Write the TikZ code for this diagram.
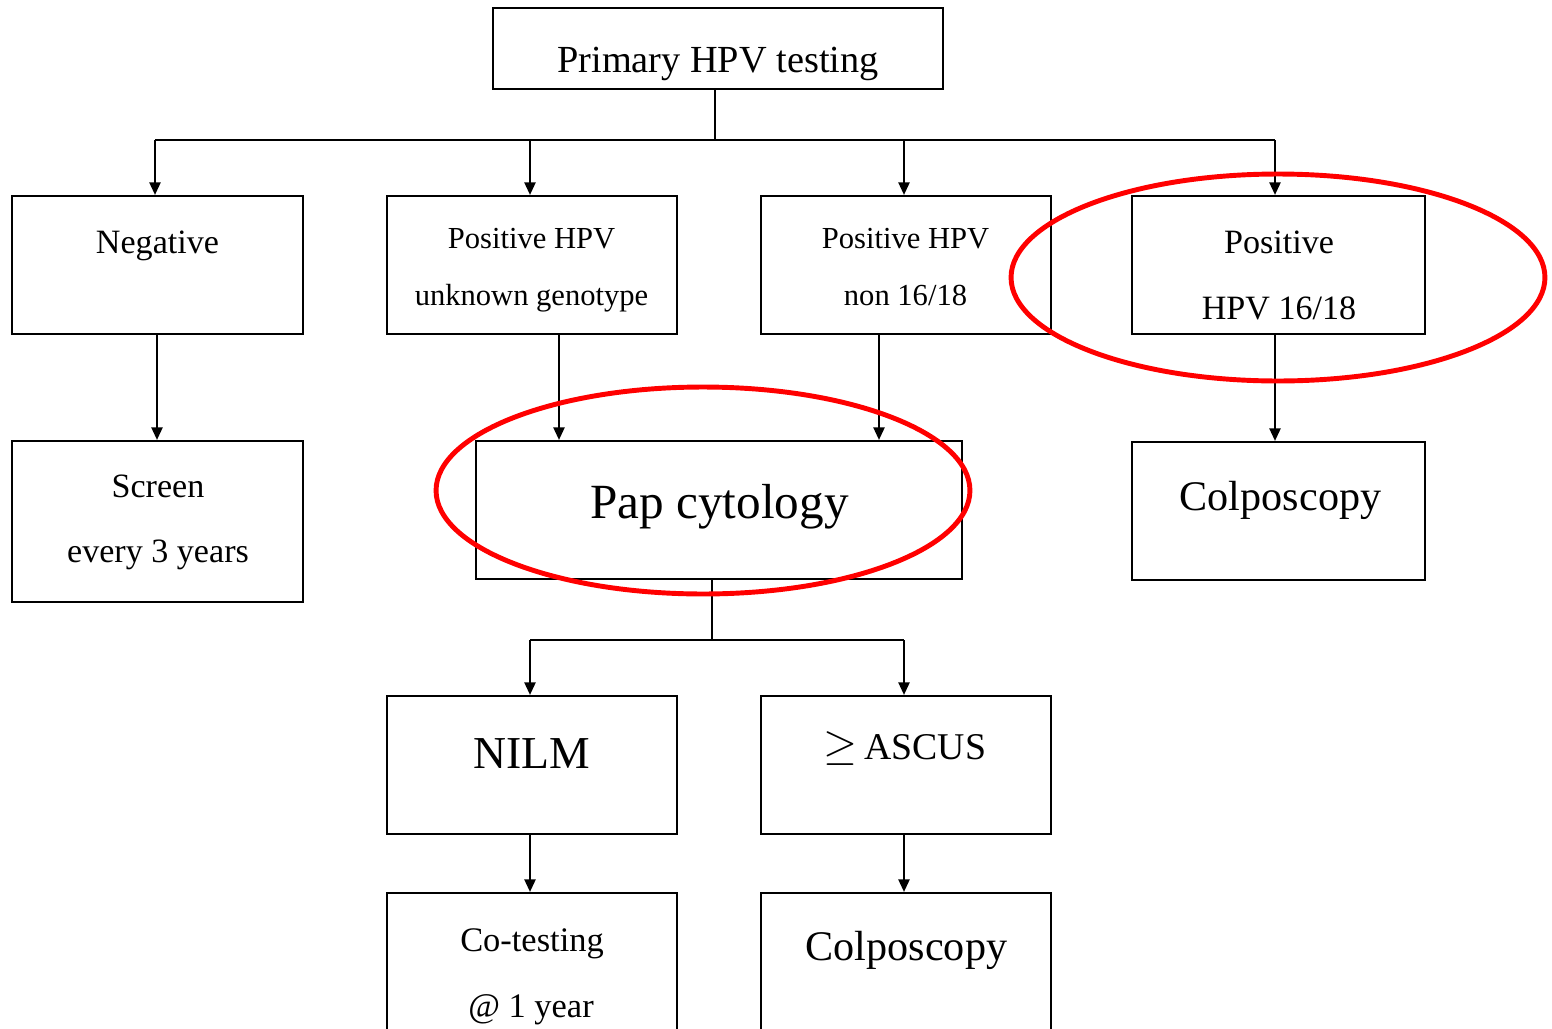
\documentclass[tikz,border=0pt]{standalone}
\usepackage{fontspec}
\setmainfont{Liberation Serif}
\usetikzlibrary{arrows.meta,fit}
\newcommand{\fs}[1]{\fontsize{#1}{#1}\selectfont}
\begin{document}
\begin{tikzpicture}[x=0.02cm,y=-0.02cm,
  box/.style={draw, line width=1.2pt, inner sep=0pt, rectangle},
  lbl/.style={anchor=base, inner sep=0pt},
  conn/.style={line width=1.2pt},
  arr/.style={line width=1.2pt, -{Triangle[length=0.25cm,width=0.22cm]}},
  ring/.style={draw=red, line width=2.8pt}]
\useasboundingbox (0,0) rectangle (1552,1028);
\clip (0,0) rectangle (1552,1028);
\fill[white] (0,0) rectangle (1552,1028);
% boxes
\node[box, fit={(493,8) (943,89)}] (top) {};
\node[box, fit={(12,196) (303,334)}] (neg) {};
\node[box, fit={(387,196) (677,334)}] (unk) {};
\node[box, fit={(761,196) (1051,334)}] (non) {};
\node[box, fit={(1132,196) (1425,334)}] (pos) {};
\node[box, fit={(12,441) (303,602)}] (screen) {};
\node[box, fit={(476,441) (962,579)}] (pap) {};
\node[box, fit={(1132,442) (1425,580)}] (colpoA) {};
\node[box, fit={(387,696) (677,834)}] (nilm) {};
\node[box, fit={(761,696) (1051,834)}] (ascus) {};
\node[box, fit={(387,893) (677,1080)}] (cotest) {};
\node[box, fit={(761,893) (1051,1080)}] (colpoB) {};
% texts
\node[lbl, font=\fs{21.8}] (ttop) at (718,72) {Primary HPV testing};
\node[lbl, font=\fs{19.4}] (tneg) at (157.5,253) {Negative};
\node[lbl, font=\fs{17.4}] (tunk1) at (531.5,248) {Positive HPV};
\node[lbl, font=\fs{17.4}] (tunk2) at (531.5,305) {unknown genotype};
\node[lbl, font=\fs{17.4}] (tnon1) at (905.5,248) {Positive HPV};
\node[lbl, font=\fs{17.4}] (tnon2) at (905.5,305) {non 16/18};
\node[lbl, font=\fs{19.4}] (tpos1) at (1279,253) {Positive};
\node[lbl, font=\fs{19.4}] (tpos2) at (1279,319) {HPV 16/18};
\node[lbl, font=\fs{19.4}] (tscr1) at (158,497) {Screen};
\node[lbl, font=\fs{19.4}] (tscr2) at (158,562) {every 3 years};
\node[lbl, font=\fs{28}] (tpap) at (719.5,518) {Pap cytology};
\node[lbl, font=\fs{24}] (tcolA) at (1280.5,510) {Colposcopy};
\node[lbl, font=\fs{26}] (tnilm) at (531.5,768) {NILM};
\node[lbl, font=\fs{21.5}] (tascus) at (905,759) {{\fs{25}$\geq$}\,ASCUS};
\node[lbl, font=\fs{19.6}] (tco1) at (532,951) {Co-testing};
\node[lbl, font=\fs{19.6}] (tco2) at (531,1017) {@ 1 year};
\node[lbl, font=\fs{24}] (tcolB) at (906.5,960) {Colposcopy};
% helper coordinates
\coordinate (bus1) at (715,140);
\coordinate (xa) at (155,0);
\coordinate (xb) at (530,0);
\coordinate (xc) at (904,0);
\coordinate (xd) at (1275,0);
\coordinate (xs) at (157,0);
\coordinate (xu) at (559,0);
\coordinate (xn) at (879,0);
\coordinate (xp) at (712,0);
\coordinate (bus2) at (712,640);
% connectors
\draw[conn] (top.south -| bus1) -- (bus1);
\draw[conn] (xa |- bus1) -- (xd |- bus1);
\draw[arr] (xa |- bus1) -- (neg.north -| xa);
\draw[arr] (xb |- bus1) -- (unk.north -| xb);
\draw[arr] (xc |- bus1) -- (non.north -| xc);
\draw[arr] (xd |- bus1) -- (pos.north -| xd);
\draw[arr] (neg.south -| xs) -- (screen.north -| xs);
\draw[arr] (unk.south -| xu) -- (pap.north -| xu);
\draw[arr] (non.south -| xn) -- (pap.north -| xn);
\draw[arr] (pos.south -| xd) -- (colpoA.north -| xd);
\draw[conn] (pap.south -| xp) -- (bus2);
\draw[conn] (xb |- bus2) -- (xc |- bus2);
\draw[arr] (xb |- bus2) -- (nilm.north -| xb);
\draw[arr] (xc |- bus2) -- (ascus.north -| xc);
\draw[arr] (nilm.south -| xb) -- (cotest.north -| xb);
\draw[arr] (ascus.south -| xc) -- (colpoB.north -| xc);
% red rings
\draw[ring] (703,490.5) ellipse [x radius=5.34cm, y radius=2.07cm];
\draw[ring] (1278,277.5) ellipse [x radius=5.34cm, y radius=2.07cm];
\end{tikzpicture}
\end{document}
